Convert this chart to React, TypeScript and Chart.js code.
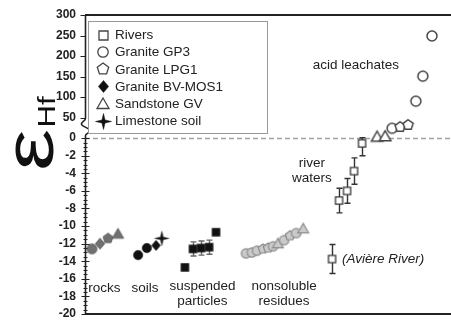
import React, { useEffect, useRef } from 'react';
import { Chart, registerables } from 'chart.js';

Chart.register(...registerables);

const FONT = '"Liberation Sans", Arial, sans-serif';

// ---- axis break: values above 0 are compressed onto a shorter segment ----
const UPPER_SPAN = 14; // display units used for 0..300
const UPPER_MAX = 300;
const K = UPPER_SPAN / UPPER_MAX;
const disp = (v: number) => (v <= 0 ? v : v * K);
const undisp = (d: number) => (d <= 0 ? d : d / K);

const lowerTicks = [-20, -18, -16, -14, -12, -10, -8, -6, -4, -2, 0];
const upperTicks = [50, 100, 150, 200, 250, 300];

// ---- data (x = sample order along the plot, y = epsilon Hf) ----
const rocksX = [1.9, 4.1, 6.3, 9.0];
const rocksY = [-12.6, -12.0, -11.4, -10.9];
const rocksShape = ['circle', 'diamond', 'pentagon', 'triangle'];

const soilsX = [14.5, 16.9, 19.4, 21.0];
const soilsY = [-13.3, -12.5, -12.2, -11.4];
const soilsShape = ['circle', 'circle', 'diamond', 'star'];

const suspX = [27.3, 29.5, 31.7, 33.9, 35.8];
const suspY = [-14.7, -12.6, -12.5, -12.4, -10.7];
const suspErr = [0, 0.8, 0.8, 0.8, 0];

const residX = [44.0, 45.6, 47.0, 48.6, 50.0, 51.4, 52.7, 54.4, 56.0, 57.7, 59.6];
const residY = [-13.1, -13.0, -12.8, -12.6, -12.5, -12.3, -12.0, -11.6, -11.1, -10.8, -10.3];
const residShape = ['circle', 'circle', 'circle', 'pentagon', 'pentagon', 'circle', 'triangle', 'circle', 'pentagon', 'circle', 'triangle'];

const riverX = [67.5, 69.4, 71.6, 73.5, 75.7];
const riverY = [-13.75, -7.1, -6.0, -3.75, -0.6];
const riverErr = [1.65, 1.4, 1.4, 1.5, 1.4];

const acidX = [79.8, 82.0, 83.9, 86.1, 88.3, 90.4, 92.3, 94.8];
const acidY = [3, 4, 24, 27, 32, 90, 151, 249];
const acidShape = ['triangle', 'triangle', 'circle', 'pentagon', 'pentagon', 'circle', 'circle', 'circle'];

const legendLabels = ['Rivers', 'Granite GP3', 'Granite LPG1', 'Granite BV-MOS1', 'Sandstone GV', 'Limestone soil'];
const legendShapes = ['square', 'circle', 'pentagon', 'diamond', 'triangle', 'star'];
const legendFilled = [false, false, false, true, false, true];

// annotation labels: [text, x (data), y (real value), align, italic]
const notes: [string, number, number, string, boolean][] = [
  ['acid leachates', 74.0, 178, 'center', false],
  ['river', 62.0, -2.85, 'center', false],
  ['waters', 62.0, -4.55, 'center', false],
  ['(Avière River)', 70.2, -13.75, 'left', true],
  ['rocks', 5.3, -17.05, 'center', false],
  ['soils', 16.4, -17.05, 'center', false],
  ['suspended', 32.1, -16.8, 'center', false],
  ['particles', 32.1, -18.5, 'center', false],
  ['nonsoluble', 54.4, -16.8, 'center', false],
  ['residues', 54.4, -18.5, 'center', false],
];

// ---- marker images ----
function shapePath(c: CanvasRenderingContext2D, shape: string, cx: number, cy: number, r: number) {
  c.beginPath();
  if (shape === 'circle') {
    c.arc(cx, cy, r, 0, Math.PI * 2);
  } else if (shape === 'square') {
    c.rect(cx - r, cy - r, 2 * r, 2 * r);
  } else if (shape === 'diamond') {
    c.moveTo(cx, cy - r);
    c.lineTo(cx + r * 0.85, cy);
    c.lineTo(cx, cy + r);
    c.lineTo(cx - r * 0.85, cy);
    c.closePath();
  } else if (shape === 'triangle') {
    c.moveTo(cx, cy - r);
    c.lineTo(cx + r, cy + r * 0.75);
    c.lineTo(cx - r, cy + r * 0.75);
    c.closePath();
  } else if (shape === 'pentagon') {
    for (let k = 0; k < 5; k++) {
      const a = -Math.PI / 2 + (k * 2 * Math.PI) / 5;
      const px = cx + r * Math.cos(a);
      const py = cy + r * Math.sin(a);
      if (k === 0) c.moveTo(px, py);
      else c.lineTo(px, py);
    }
    c.closePath();
  } else if (shape === 'star') {
    for (let k = 0; k < 8; k++) {
      const a = -Math.PI / 2 + (k * Math.PI) / 4;
      const rr = k % 2 === 0 ? r : r * 0.27;
      const px = cx + rr * Math.cos(a);
      const py = cy + rr * Math.sin(a);
      if (k === 0) c.moveTo(px, py);
      else c.lineTo(px, py);
    }
    c.closePath();
  }
}

function makeMarker(shape: string, r: number, fill: string, stroke: string, lw: number) {
  const size = Math.ceil(2 * r + lw + 4);
  const cv = document.createElement('canvas');
  cv.width = size;
  cv.height = size;
  const c = cv.getContext('2d')!;
  shapePath(c, shape, size / 2, size / 2, r);
  c.fillStyle = fill;
  c.fill();
  if (lw > 0) {
    c.strokeStyle = stroke;
    c.lineWidth = lw;
    c.lineJoin = 'miter';
    c.stroke();
  }
  return cv;
}

const sizeFor = (shape: string, base: number) =>
  shape === 'star' ? base * 1.5 : shape === 'triangle' ? base * 1.15 : shape === 'pentagon' ? base * 1.05 : shape === 'diamond' ? base * 1.1 : base;

function styled(shapes: string[], base: number, fill: string, stroke: string, lw: number) {
  return shapes.map((s) => makeMarker(s, sizeFor(s, base), fill, stroke, lw));
}

const decorPlugin = {
  id: 'decor',
  beforeDatasetsDraw(chart: any) {
    const { ctx, chartArea: a, scales } = chart;
    const xs = scales.x;
    const ys = scales.y;
    ctx.save();
    // dashed zero line
    const y0 = Math.round(ys.getPixelForValue(0)) + 0.5;
    ctx.strokeStyle = '#a0a0a0';
    ctx.lineWidth = 1.3;
    ctx.setLineDash([5, 3]);
    ctx.beginPath();
    ctx.moveTo(a.left, y0);
    ctx.lineTo(a.right, y0);
    ctx.stroke();
    ctx.setLineDash([]);
    // error bars
    const drawErr = (X: number[], Y: number[], E: number[], color: string) => {
      ctx.strokeStyle = color;
      ctx.lineWidth = 1.4;
      X.forEach((xv, i) => {
        if (!E[i]) return;
        const px = Math.round(xs.getPixelForValue(xv)) + 0.5;
        const t = ys.getPixelForValue(disp(Y[i] + E[i]));
        const b = ys.getPixelForValue(disp(Y[i] - E[i]));
        ctx.beginPath();
        ctx.moveTo(px, t);
        ctx.lineTo(px, b);
        ctx.moveTo(px - 3, t);
        ctx.lineTo(px + 3, t);
        ctx.moveTo(px - 3, b);
        ctx.lineTo(px + 3, b);
        ctx.stroke();
      });
    };
    drawErr(suspX, suspY, suspErr, '#666');
    drawErr(riverX, riverY, riverErr, '#333');
    ctx.restore();
  },
  afterDraw(chart: any) {
    const { ctx, chartArea: a, scales } = chart;
    const xs = scales.x;
    const ys = scales.y;
    ctx.save();
    // frame lines
    ctx.strokeStyle = '#222';
    ctx.lineWidth = 2;
    ctx.beginPath();
    ctx.moveTo(a.left, a.top);
    ctx.lineTo(a.right, a.top);
    ctx.moveTo(a.left, a.bottom);
    ctx.lineTo(a.right, a.bottom);
    ctx.stroke();
    // left axis with wave break
    const ax = a.left + 0.5;
    const yb1 = ys.getPixelForValue(disp(48));
    const yb2 = ys.getPixelForValue(disp(6));
    const h = yb2 - yb1;
    ctx.lineWidth = 1.6;
    ctx.beginPath();
    ctx.moveTo(ax, a.top);
    ctx.lineTo(ax, yb1);
    ctx.bezierCurveTo(ax, yb1 + h * 0.15, ax - 5, yb1 + h * 0.2, ax - 4, yb1 + h * 0.35);
    ctx.bezierCurveTo(ax - 3, yb1 + h * 0.5, ax + 5, yb1 + h * 0.55, ax + 4, yb1 + h * 0.75);
    ctx.bezierCurveTo(ax + 3, yb1 + h * 0.88, ax, yb1 + h * 0.9, ax, yb2);
    ctx.lineTo(ax, a.bottom);
    ctx.stroke();
    // ticks
    ctx.lineWidth = 1.2;
    ctx.beginPath();
    for (let v = -20; v <= 0.001; v += 0.5) {
      const py = Math.round(ys.getPixelForValue(v)) + 0.5;
      const major = Math.abs(v / 2 - Math.round(v / 2)) < 1e-6;
      const l = major ? 4 : 2;
      ctx.moveTo(ax - l, py);
      ctx.lineTo(ax + (major ? 4 : 2), py);
    }
    upperTicks.forEach((v) => {
      const py = Math.round(ys.getPixelForValue(disp(v))) + 0.5;
      ctx.moveTo(ax - 5, py);
      ctx.lineTo(ax, py);
    });
    ctx.stroke();

    // annotations
    ctx.fillStyle = '#222';
    ctx.textBaseline = 'middle';
    notes.forEach(([t, xv, yv, al, it]) => {
      ctx.font = `${it ? 'italic ' : ''}13.5px ${FONT}`;
      ctx.textAlign = al as CanvasTextAlign;
      ctx.fillText(t, xs.getPixelForValue(xv), ys.getPixelForValue(disp(yv)));
    });

    // legend box
    const lx = 88.5, ly = 21.5, lw = 179, lh = 112;
    ctx.fillStyle = '#fff';
    ctx.fillRect(lx, ly, lw, lh);
    ctx.strokeStyle = '#999';
    ctx.lineWidth = 1;
    ctx.strokeRect(lx, ly, lw, lh);
    legendLabels.forEach((lab, i) => {
      const cy = 35 + i * 17.2;
      const sh = legendShapes[i];
      const filled = legendFilled[i];
      const r = sh === 'square' ? 4.5 : sh === 'circle' ? 5.2 : sh === 'star' ? 8 : 6;
      const img = makeMarker(sh, r, filled ? '#111' : '#fff', filled ? '#111' : '#444', filled ? 0.5 : 1.3);
      ctx.drawImage(img, Math.round(103 - img.width / 2), Math.round(cy - img.height / 2));
      ctx.fillStyle = '#222';
      ctx.font = `13.5px ${FONT}`;
      ctx.textAlign = 'left';
      ctx.fillText(lab, 115, cy + 0.5);
    });

    // y title: epsilon Hf (rotated)
    ctx.translate(53, 171);
    ctx.rotate(-Math.PI / 2);
    ctx.scale(1.35, 1);
    ctx.fillStyle = '#111';
    ctx.textAlign = 'left';
    ctx.textBaseline = 'alphabetic';
    ctx.font = `70px ${FONT}`;
    ctx.fillText('ε', 0, 0);
    const w = ctx.measureText('ε').width;
    ctx.font = `23px ${FONT}`;
    ctx.fillText('Hf', w + 1, 2);
    ctx.restore();
  },
};

export default function App() {
  const ref = useRef<HTMLCanvasElement>(null);
  useEffect(() => {
    const canvas = ref.current!;
    const pts = (X: number[], Y: number[]) => X.map((x, i) => ({ x, y: disp(Y[i]) }));
    const ds = (X: number[], Y: number[], imgs: HTMLCanvasElement[]) => ({
      data: pts(X, Y),
      pointStyle: (c: any) => imgs[c.dataIndex],
      pointRadius: 5,
      showLine: false,
    });
    const chart = new Chart(canvas, {
      type: 'scatter',
      data: {
        datasets: [
          ds(rocksX, rocksY, styled(rocksShape, 5, '#707070', '#555', 0.8)),
          ds(soilsX, soilsY, styled(soilsShape, 4.7, '#111', '#111', 0.5)),
          ds(suspX, suspY, styled(suspX.map(() => 'square'), 4, '#111', '#111', 0.5)),
          ds(residX, residY, styled(residShape, 4.7, '#cacaca', '#8a8a8a', 1.2)),
          ds(riverX, riverY, styled(riverX.map(() => 'square'), 3.6, '#fff', '#333', 1.3)),
          ds(acidX, acidY, styled(acidShape, 5, '#fff', '#444', 1.5)),
        ] as any,
      },
      options: {
        responsive: false,
        animation: false,
        layout: { autoPadding: false, padding: { top: 15, bottom: 6, left: 0, right: 0 } },
        plugins: { legend: { display: false }, tooltip: { enabled: false } },
        scales: {
          x: { type: 'linear', min: 0, max: 100, display: false },
          y: {
            type: 'linear',
            min: -20,
            max: UPPER_SPAN,
            afterFit: (s: any) => {
              s.width = 85;
              s.paddingTop = 0;
              s.paddingBottom = 0;
            },
            afterBuildTicks: (s: any) => {
              s.ticks = [...lowerTicks, ...upperTicks].map((v) => ({ value: disp(v) }));
            },
            ticks: {
              autoSkip: false,
              padding: 9,
              color: '#222',
              font: { family: FONT, size: 12, weight: 'bold', lineHeight: 1 },
              callback: (v: any) => String(Math.round(undisp(Number(v)))),
            },
            grid: { display: false, drawTicks: false },
            border: { display: false },
          },
        },
      } as any,
      plugins: [decorPlugin],
    });
    return () => chart.destroy();
  }, []);
  return (
    <div style={{ position: 'fixed', left: 0, top: 0, width: 451, height: 320, background: '#fff' }}>
      <canvas ref={ref} width={451} height={320} style={{ display: 'block', width: 451, height: 320 }} />
    </div>
  );
}
